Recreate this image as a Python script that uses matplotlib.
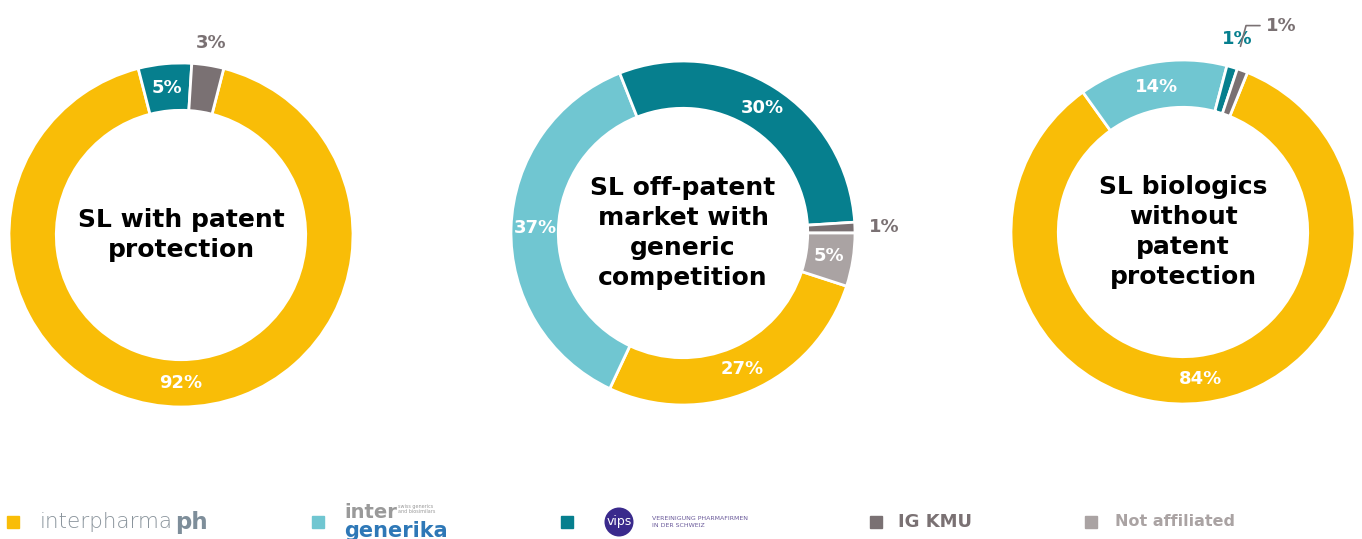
import matplotlib.pyplot as plt
import numpy as np

# groups in legend order
groups = ["interpharma", "intergenerika", "vips", "IG KMU", "Not affiliated"]
colors = ["#F9BD07", "#70C6D1", "#067F8E", "#7A7173", "#AAA3A3"]

titles = ["SL with patent\nprotection",
          "SL off-patent\nmarket with\ngeneric\ncompetition",
          "SL biologics\nwithout\npatent\nprotection"]
shares = [[92, 0, 5, 3, 0],
          [27, 37, 30, 1, 5],
          [84, 14, 1, 1, 0]]
# clockwise angle (deg from 12 o'clock) where the first slice begins
start_cw = [14.4, 108, 22]

W, H = 1362, 539
centers = [(181, 235), (683, 233), (1183, 232)]
R = 172

fig = plt.figure(figsize=(W / 100, H / 100), dpi=100)

for k in range(3):
    cx, cy = centers[k]
    ax = fig.add_axes([(cx - R) / W, 1 - (cy + R) / H, 2 * R / W, 2 * R / H])
    vals = [v for v in shares[k] if v > 0]
    cols = [c for v, c in zip(shares[k], colors) if v > 0]
    ax.pie(vals, colors=cols, radius=1, startangle=90 - start_cw[k], counterclock=False,
           wedgeprops=dict(width=0.275, edgecolor="white", linewidth=2))
    ax.set_xlim(-1, 1)
    ax.set_ylim(-1, 1)
    ax.set_aspect("equal")
    ax.axis("off")
    ax.text(0, 0, titles[k], ha="center", va="center", fontsize=18,
            fontweight="bold", linespacing=1.32, color="black")

    # percentage labels
    total = sum(vals)
    a = start_cw[k]
    small_ix = 0
    for v, c in zip(vals, cols):
        mid = np.radians(a + 360 * v / total / 2)
        a += 360 * v / total
        if v >= 5:
            r = 0.86
            ax.text(r * np.sin(mid), r * np.cos(mid), f"{v}%", ha="center", va="center",
                    fontsize=13, fontweight="bold", color="white")
        else:
            if k == 2 and small_ix == 1:
                # second tiny slice gets a leader line
                r0 = 1.13
                p = mid - np.radians(3)
                ax.annotate(f"{v}%", xy=(r0 * np.sin(p), r0 * np.cos(p)),
                            xytext=(0.48, 1.2), ha="left", va="center", fontsize=13,
                            fontweight="bold", color=c, annotation_clip=False,
                            arrowprops=dict(arrowstyle="-", color=c, lw=1.2, shrinkA=2,
                                            shrinkB=0,
                                            connectionstyle="angle,angleA=0,angleB=75,rad=0"))
            else:
                r = 1.13 if k == 0 else 1.17
                ax.text(r * np.sin(mid) - (0.02 if k == 2 else 0), r * np.cos(mid), f"{v}%",
                        ha="center", va="center", fontsize=13, fontweight="bold", color=c)
            small_ix += 1

# legend row (logos approximated with text)
leg_y = 1 - 522 / H
sq_x = [13, 318, 567, 876, 1091]
for x, c in zip(sq_x, colors):
    fig.patches.append(plt.Rectangle(((x - 6) / W, leg_y - 6 / H), 12 / W, 12 / H,
                                     transform=fig.transFigure, color=c))

fig.text(40 / W, leg_y, "interpharma", fontsize=15.5, color="#8A949C", va="center",
         fontweight="light")
fig.text(175 / W, leg_y, "ph", fontsize=16.5, color="#7E8E9A", va="center", fontweight="bold")
fig.text(344 / W, leg_y + 10 / H, "inter", fontsize=14, color="#9A9A9A", va="center",
         fontweight="bold")
fig.text(398 / W, leg_y + 13 / H, "swiss generics\nand biosimilars", fontsize=3.5,
         color="#9A9A9A", va="center", linespacing=1.0)
fig.text(344 / W, leg_y - 9 / H, "generika", fontsize=15, color="#2E78B7", va="center",
         fontweight="bold")
fig.text(619 / W, leg_y, "vips", fontsize=9, color="white", ha="center", va="center",
         bbox=dict(boxstyle="circle,pad=0.15", fc="#3A2A8C", ec="none"))
fig.text(652 / W, leg_y, "VEREINIGUNG PHARMAFIRMEN\nIN DER SCHWEIZ", fontsize=4.5,
         color="#6A5A9A", va="center", linespacing=1.3)
fig.text(898 / W, leg_y, "IG KMU", fontsize=13, color="#7A7173", va="center",
         fontweight="bold")
fig.text(1115 / W, leg_y, "Not affiliated", fontsize=11.5, color="#AAA3A3", va="center",
         fontweight="bold")

fig.savefig("out.png", dpi=100)
